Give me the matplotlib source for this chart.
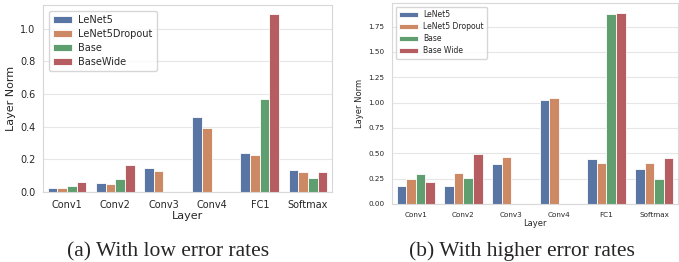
import numpy as np
import matplotlib.pyplot as plt
import seaborn as sns

sns.set_style('whitegrid')
plt.rcParams['font.family'] = ['DejaVu Sans']

layers = ['Conv1', 'Conv2', 'Conv3', 'Conv4', 'FC1', 'Softmax']

# (a) low error rates
low_lenet5 = [0.027, 0.053, 0.148, 0.458, 0.242, 0.136]
low_lenet5_dropout = [0.027, 0.047, 0.127, 0.392, 0.224, 0.121]
low_base = [0.037, 0.080, 0.0, 0.0, 0.569, 0.084]
low_base_wide = [0.060, 0.164, 0.0, 0.0, 1.092, 0.121]
low_names = ['LeNet5', 'LeNet5Dropout', 'Base', 'BaseWide']

# (b) higher error rates
high_lenet5 = [0.178, 0.181, 0.399, 1.022, 0.445, 0.349]
high_lenet5_dropout = [0.244, 0.303, 0.468, 1.045, 0.405, 0.405]
high_base = [0.300, 0.257, 0.0, 0.0, 1.879, 0.244]
high_base_wide = [0.218, 0.498, 0.0, 0.0, 1.889, 0.458]
high_names = ['LeNet5', 'LeNet5 Dropout', 'Base', 'Base Wide']

# same muted look as sns.barplot (saturation 0.75)
colors = [sns.desaturate(c, 0.75) for c in sns.color_palette('deep')[:4]]


def draw_panel(ax, series, names, fs_tick, fs_label, fs_legend, ymax,
               handlelength, axespad):
    x = np.arange(len(layers))
    width = 0.2
    for i, (vals, name) in enumerate(zip(series, names)):
        ax.bar(x + (i - 1.5) * width, vals, width, color=colors[i],
               edgecolor='white', linewidth=0.6, label=name)
    ax.set_xticks(x)
    ax.set_xticklabels(layers)
    ax.set_xlim(-0.5, len(layers) - 0.5)
    ax.set_ylim(0, ymax)
    ax.tick_params(labelsize=fs_tick, pad=2)
    ax.set_xlabel('Layer', fontsize=fs_label, labelpad=1)
    ax.set_ylabel('Layer Norm', fontsize=fs_label, labelpad=3)
    ax.grid(axis='x', visible=False)
    ax.grid(axis='y', color='#e6e6e6', linewidth=0.8)
    for s in ax.spines.values():
        s.set_color('#d8d8d8')
    ax.legend(loc='upper left', fontsize=fs_legend, frameon=True,
              handlelength=handlelength, handletextpad=0.7,
              borderpad=0.45, labelspacing=0.4, borderaxespad=axespad)


fig = plt.figure(figsize=(6.79, 2.62), dpi=100)
ax1 = fig.add_axes([43 / 679, 1 - 192 / 262, 289 / 679, 187 / 262])
ax2 = fig.add_axes([392 / 679, 1 - 204 / 262, 286 / 679, 201 / 262])

draw_panel(ax1, [low_lenet5, low_lenet5_dropout, low_base, low_base_wide],
           low_names, 7, 8, 7, 1.146, 1.9, 0.6)
draw_panel(ax2, [high_lenet5, high_lenet5_dropout, high_base, high_base_wide],
           high_names, 5.2, 6, 5.5, 1.983, 2.4, 0.5)

fig.text(168 / 679, 1 - 256 / 262, '(a) With low error rates',
         family='Liberation Serif', fontsize=15.5, ha='center', va='baseline')
fig.text(522 / 679, 1 - 256 / 262, '(b) With higher error rates',
         family='Liberation Serif', fontsize=15.5, ha='center', va='baseline')

fig.savefig('out.png', dpi=100)
